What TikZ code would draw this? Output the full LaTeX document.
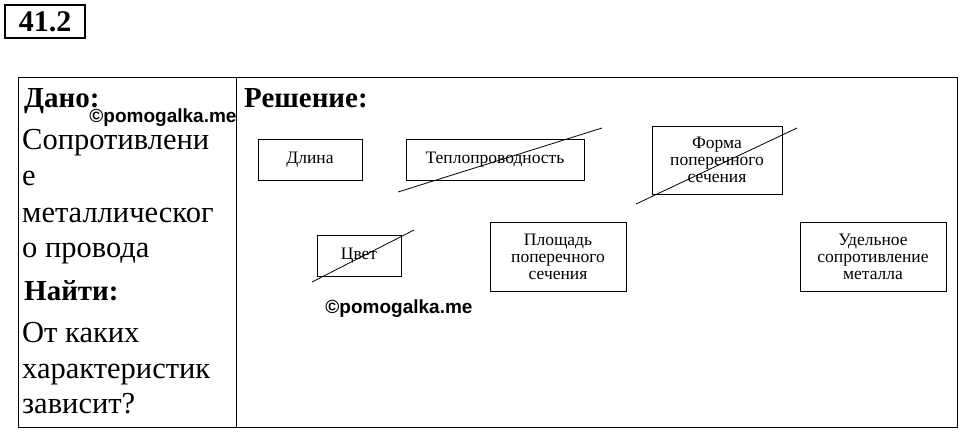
\documentclass[tikz,border=0pt]{standalone}
\usepackage{fontspec}
\setmainfont{Liberation Serif}
\setsansfont{Liberation Sans}
\usetikzlibrary{positioning}
\tikzset{
  item/.style={draw, thick, minimum height=41pt, align=center, inner sep=2pt,
    font=\fontsize{17.5}{17}\selectfont},
  strike/.style={thick},
  left text/.style={anchor=base west, inner sep=0pt, font=\fontsize{30.5}{30}\selectfont},
  head/.style={anchor=base west, inner sep=0pt, font=\fontsize{29}{30}\selectfont\bfseries},
  water/.style={font=\fontsize{19}{20}\selectfont\sffamily\bfseries}
}
\begin{document}
\begin{tikzpicture}[x=1pt,y=-1pt]
\useasboundingbox (0,0) rectangle (960,432);
  % number
  \draw[very thick] (5,5) rectangle (85,38);
  \node[font=\fontsize{30}{30}\selectfont\bfseries] (num) at (45,21.5) {41.2};
  % table
  \draw[thick] (18,77) rectangle (957,427);
  \draw[thick] (236,77) -- (236,427);
  % given
  \node[head] (given) at (24,107) {Дано:};
  \node[left text] (l1) at (22,149) {Сопротивлени};
  \node[left text] (l2) at (22,185) {е};
  \node[left text] (l3) at (22,222) {металлическог};
  \node[left text] (l4) at (22,257) {о провода};
  \node[head] (find) at (24,300) {Найти:};
  \node[left text] (l5) at (22,342) {От каких};
  \node[left text] (l6) at (22,378) {характеристик};
  \node[left text] (l7) at (22,413) {зависит?};
  \node[head] (sol) at (244,107) {Решение:};
  % watermarks
  \node[water] (wm1) at (163,118) {©pomogalka.me};
  \node[water] (wm2) at (399,309) {©pomogalka.me};
  % boxes
  \node[item, minimum width=104pt] (len) at (310,159.5) {Длина};
  \node[item, minimum width=178pt] (heat) at (495,159.5) {Теплопроводность};
  \node[item, minimum width=130pt, minimum height=68pt] (form) at (717,160) {Форма\\поперечного\\сечения};
  \node[item, minimum width=84pt] (col) at (359,255.5) {Цвет};
  \node[item, minimum width=136pt, minimum height=69pt] (area) at (558,256.5) {Площадь\\поперечного\\сечения};
  \node[item, minimum width=146pt, minimum height=69pt] (res) at (873,256.5) {Удельное\\сопротивление\\металла};
  % crossed out
  \draw[strike] (398,192) -- (602,128);
  \draw[strike] (636,204) -- (797,128);
  \draw[strike] (312,282) -- (414,230);
\end{tikzpicture}
\end{document}
